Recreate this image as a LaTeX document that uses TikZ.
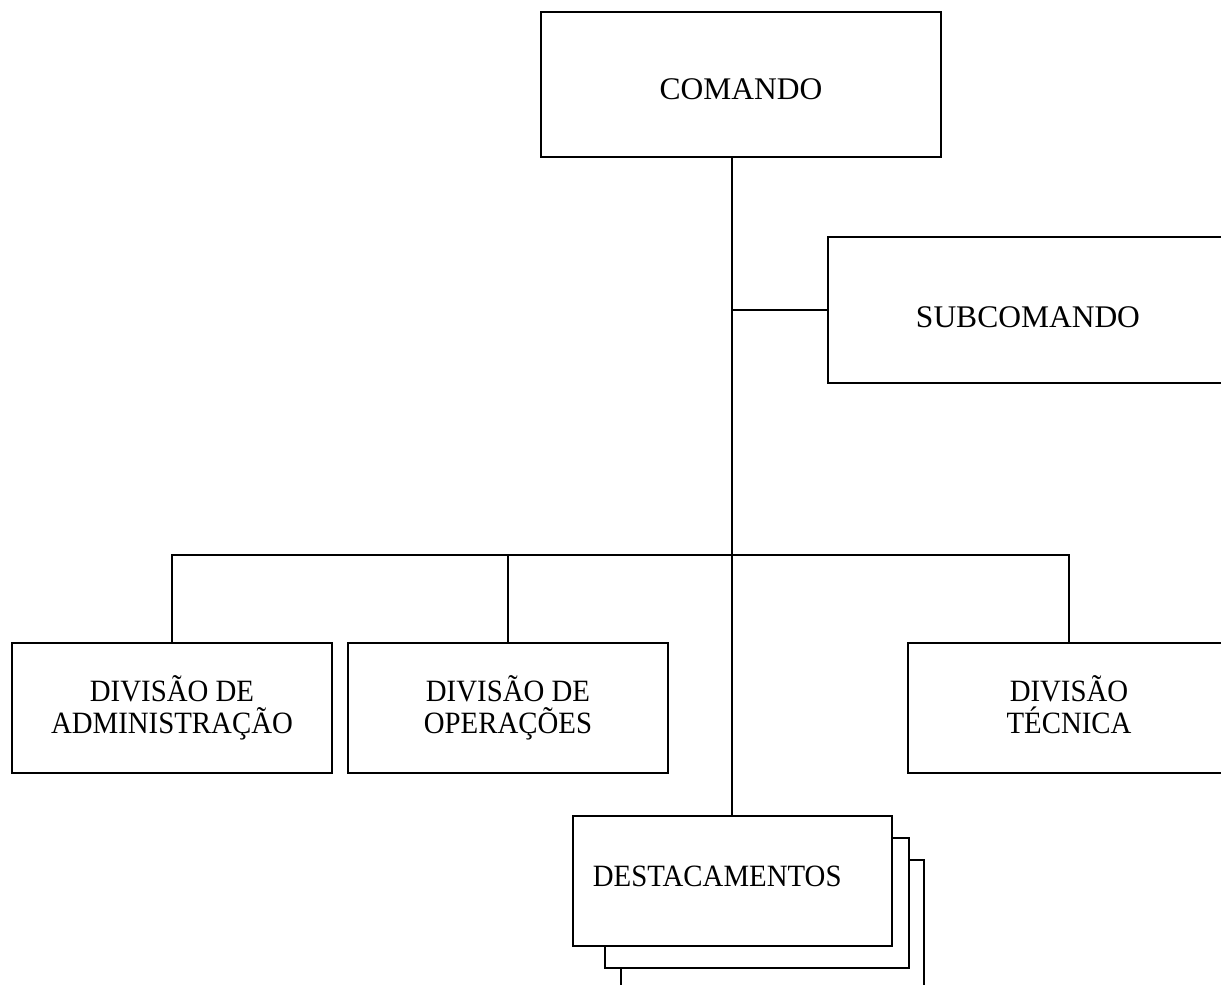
\documentclass[tikz,border=0pt]{standalone}
\usepackage{fontspec}
\setmainfont{Liberation Serif}
\newfontfamily\narrowfont[FakeStretch=0.93]{Liberation Serif}
\usetikzlibrary{positioning}
\tikzset{
    unit/.style = {rectangle, draw=black, fill=white, inner sep=0pt, align=center, font=\fontsize{31.5}{33}\selectfont},
    big_unit/.style = {unit, minimum width=400pt, minimum height=145pt},
    div_unit/.style = {unit, minimum width=320pt, minimum height=130pt, font=\narrowfont\fontsize{31}{32.5}\selectfont},
    det_unit/.style = {unit, minimum height=130pt, text width=279pt, inner xsep=20pt, align=left, font=\narrowfont\fontsize{31}{32.5}\selectfont},
    det_back/.style = {unit, minimum width=304pt, minimum height=130pt}
}

\begin{document}
\begin{tikzpicture}[x=1pt, y=-1pt, line width=2pt]
    \useasboundingbox (0,0) rectangle (1221,985);
    % boxes
    \node (comando) [big_unit, text height=30pt, text depth=0pt] at (741,84.5) {COMANDO};
    \node (subcomando) [big_unit, minimum height=146pt, text height=35pt, text depth=0pt] at (1028,310) {SUBCOMANDO};
    \node (admin) [div_unit] at (172,708) {DIVIS\~AO DE\\ADMINISTRA\c{C}\~AO};
    \node (oper) [div_unit] at (508,708) {DIVIS\~AO DE\\OPERA\c{C}\~OES};
    \node (tecnica) [div_unit, minimum width=322pt] at (1069,708) {DIVIS\~AO\\T\'ECNICA\vphantom{\c{C}}};
    \node (det_c) [det_back, minimum width=303pt] at (772.5,925) {};
    \node (det_b) [det_back] at (756.5,903) {};
    \node (det_a) [det_unit, text height=11pt, text depth=0pt] at (732.4,881) {DESTACAMENTOS};
    % connectors
    \coordinate (bus) at (733,554.7);
    \draw (comando.south -| det_a.north) -- (det_a.north);
    \draw (subcomando.west -| det_a.north) -- (subcomando.west);
    \draw (admin.north) |- (bus) -| (tecnica.north);
    \draw (oper.north) -- (oper.north |- bus);
\end{tikzpicture}
\end{document}
